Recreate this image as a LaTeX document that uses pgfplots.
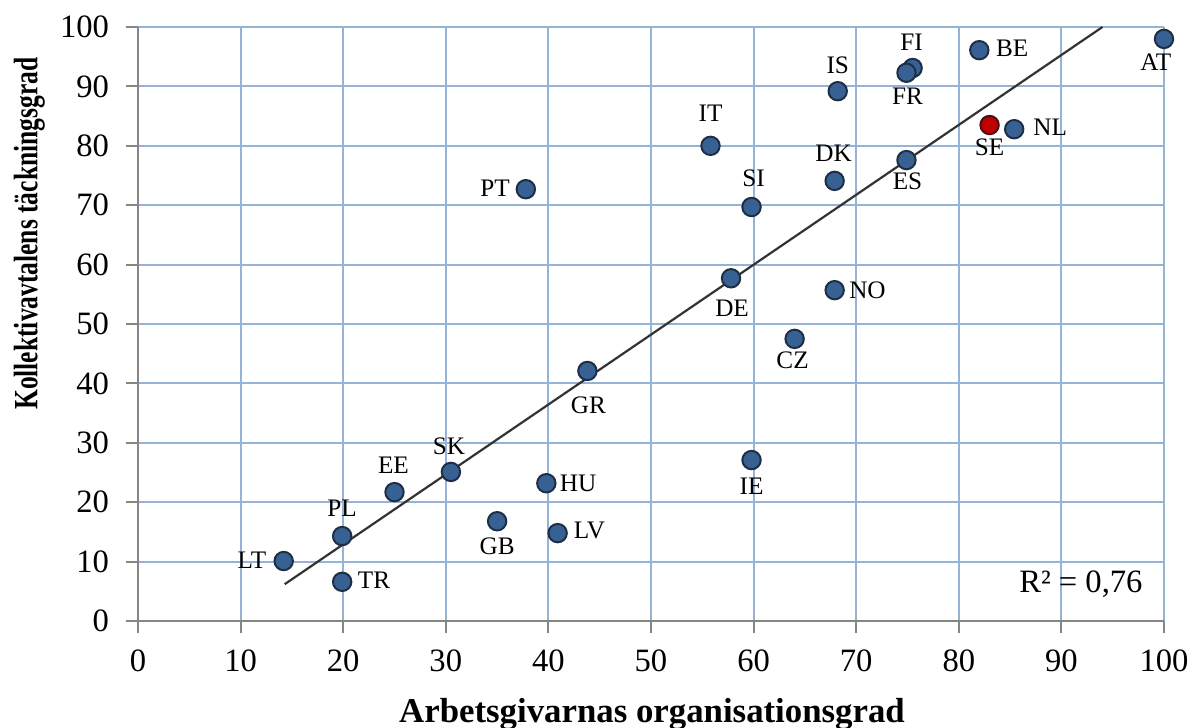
\documentclass[border=0pt]{standalone}
\usepackage{pgfplots}
\pgfplotsset{compat=1.18}
\usepackage{pgfplotstable}
\usepackage{fontspec}
\setmainfont{Liberation Serif}
\definecolor{gridblue}{HTML}{95B3D7}
\definecolor{axgray}{HTML}{868686}
\definecolor{ptfill}{HTML}{386193}
\definecolor{ptdraw}{HTML}{1E2E45}
\definecolor{sefill}{HTML}{C00000}
\definecolor{sedraw}{HTML}{4A1010}
\definecolor{trend}{HTML}{333333}
\pgfplotstableread{
x y
14.2 10.1
19.9 14.3
19.9 6.6
25.0 21.7
30.5 25.1
35.0 16.8
39.8 23.2
40.9 14.8
43.8 42.1
37.8 72.7
55.8 80.0
59.8 69.7
57.8 57.7
59.8 27.1
64.0 47.5
67.9 55.7
67.9 74.1
68.2 89.2
74.9 77.6
75.5 93.1
74.9 92.3
82.0 96.1
85.4 82.8
100.0 98.0
}\countries
\pgfplotstableread{
x y
83.0 83.5
}\sweden
\begin{document}
\begin{tikzpicture}
\begin{axis}[
  scale only axis,
  width=513pt, height=297pt,
  xmin=0, xmax=100, ymin=0, ymax=100,
  xtick={0,10,...,100}, ytick={0,10,...,100},
  axis x line*=bottom, axis y line*=left,
  x axis line style={-, draw=axgray, line width=1.3pt},
  y axis line style={-, draw=axgray, line width=1pt},
  tick align=outside,
  major tick length=6pt,
  tick style={draw=axgray, line width=1pt},
  grid=major,
  major grid style={draw=gridblue, line width=1pt},
  /pgf/number format/assume math mode=true,
  ticklabel style={font=\fontsize{16.3}{18}\selectfont},
  xticklabel style={yshift=-5pt},
  yticklabel style={xshift=-5pt},
  xlabel={\bfseries Arbetsgivarnas organisationsgrad},
  xlabel style={font=\fontsize{17.4}{20}\selectfont, at={(axis description cs:0.501,-0.170)}, anchor=base},
  ylabel={\scalebox{0.75}[1]{\bfseries Kollektivavtalens täckningsgrad}},
  ylabel style={font=\fontsize{17}{20}\selectfont, at={(axis description cs:-0.106,0.652)}, anchor=center},
  clip=false,
]
\coordinate (bbl) at (axis description cs:-0.1345,-0.1785);
\coordinate (btr) at (axis description cs:1.0273,1.0455);
\addplot[trend, line width=1.1pt] coordinates {(14.3,6.2) (94.0,100)};
\addplot[only marks, mark=*, mark size=4.6pt, mark options={fill=ptfill, draw=ptdraw, line width=1pt}] table[x=x,y=y] {\countries};
\addplot[only marks, mark=*, mark size=4.6pt, mark options={fill=sefill, draw=sedraw, line width=1pt}] table[x=x,y=y] {\sweden};
\begin{scope}[every node/.style={font=\fontsize{12.6}{14}\selectfont, inner sep=0pt}]
\node at (axis cs:11.1,10.3) {LT};
\node at (axis cs:19.9,19.0) {PL};
\node at (axis cs:23.0,6.9) {TR};
\node at (axis cs:24.9,26.3) {EE};
\node at (axis cs:30.3,29.5) {SK};
\node at (axis cs:35.0,12.6) {GB};
\node at (axis cs:42.9,23.1) {HU};
\node at (axis cs:44.0,15.3) {LV};
\node at (axis cs:43.9,36.4) {GR};
\node at (axis cs:34.8,72.9) {PT};
\node at (axis cs:55.8,85.5) {IT};
\node at (axis cs:60.0,74.6) {SI};
\node at (axis cs:67.8,78.8) {DK};
\node at (axis cs:75.0,74.1) {ES};
\node at (axis cs:57.9,52.7) {DE};
\node at (axis cs:71.1,55.7) {NO};
\node at (axis cs:63.8,43.9) {CZ};
\node at (axis cs:59.8,22.7) {IE};
\node at (axis cs:68.2,93.6) {IS};
\node at (axis cs:75.4,97.5) {FI};
\node at (axis cs:75.0,88.4) {FR};
\node at (axis cs:85.2,96.5) {BE};
\node at (axis cs:88.9,83.2) {NL};
\node at (axis cs:83.0,79.8) {SE};
\node at (axis cs:99.2,94.1) {AT};
\end{scope}
\node[font=\fontsize{16.3}{18}\selectfont, inner sep=0pt] at (axis cs:91.9,6.2) {R² = 0,76};
\end{axis}
\pgfresetboundingbox
\path (bbl) rectangle (btr);
\end{tikzpicture}
\end{document}
